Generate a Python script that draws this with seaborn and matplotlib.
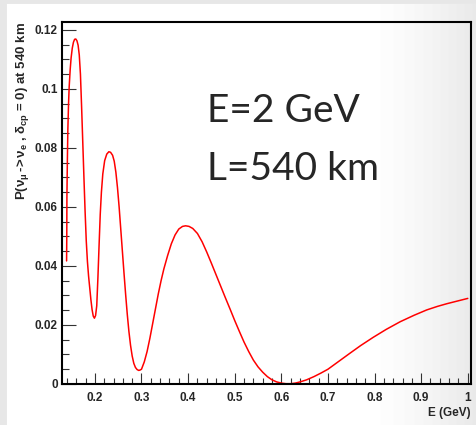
import numpy as np
import pandas as pd
import matplotlib
matplotlib.use("Agg")
import matplotlib.pyplot as plt
import seaborn as sns
from matplotlib.ticker import MultipleLocator

# values (E in GeV, oscillation probability)
energy = [0.1393, 0.1397, 0.140, 0.141, 0.142, 0.1435, 0.1449, 0.147, 0.149, 0.1515,
          0.154, 0.1565, 0.159, 0.1615, 0.164, 0.1665, 0.169, 0.1715, 0.174, 0.1765,
          0.179, 0.1815, 0.184, 0.1865, 0.189, 0.1915, 0.194, 0.1965, 0.199, 0.2015,
          0.204, 0.2065, 0.209, 0.2115, 0.214, 0.217, 0.221, 0.2255, 0.230, 0.2337,
          0.238, 0.2415, 0.245, 0.2485, 0.252, 0.2555, 0.259, 0.2625, 0.266, 0.2695,
          0.273, 0.2765, 0.280, 0.2835, 0.287, 0.2905, 0.294, 0.2966, 0.300, 0.306,
          0.312, 0.318, 0.324, 0.330, 0.336, 0.342, 0.348, 0.356, 0.364, 0.372,
          0.380, 0.388, 0.3946, 0.402, 0.410, 0.420, 0.430, 0.440, 0.450, 0.460,
          0.470, 0.480, 0.490, 0.500, 0.510, 0.520, 0.530, 0.540, 0.550, 0.560,
          0.570, 0.580, 0.590, 0.600, 0.610, 0.620, 0.630, 0.640, 0.654, 0.670,
          0.685, 0.700, 0.720, 0.747, 0.770, 0.797, 0.825, 0.855, 0.885, 0.912,
          0.935, 0.955, 0.980, 1.0]
prob = [0.0417, 0.0500, 0.0635, 0.0760, 0.0861, 0.0950, 0.1008, 0.1065, 0.1105, 0.1138,
        0.1158, 0.1168, 0.1169, 0.1163, 0.1148, 0.1115, 0.1050, 0.0940, 0.0820, 0.0700,
        0.0585, 0.0485, 0.0415, 0.0365, 0.0325, 0.0285, 0.0252, 0.0230, 0.0223, 0.0232,
        0.0265, 0.0360, 0.0470, 0.0575, 0.0650, 0.0712, 0.0757, 0.0779, 0.0787, 0.0785,
        0.0775, 0.0755, 0.0718, 0.0665, 0.0600, 0.0525, 0.0450, 0.0375, 0.0303, 0.0236,
        0.0178, 0.0131, 0.0095, 0.0070, 0.0056, 0.0049, 0.0046, 0.0047, 0.0050, 0.0075,
        0.0110, 0.0155, 0.0205, 0.0255, 0.0305, 0.0350, 0.0390, 0.0435, 0.0475, 0.0505,
        0.0525, 0.0534, 0.0536, 0.0534, 0.0527, 0.0510, 0.0482, 0.0447, 0.0409, 0.0370,
        0.0331, 0.0292, 0.0254, 0.0215, 0.0178, 0.0142, 0.0110, 0.0081, 0.0058, 0.0040,
        0.0025, 0.0014, 0.0007, 0.0003, 0.0001, 0.0001, 0.0003, 0.0007, 0.0014, 0.0025,
        0.0037, 0.0050, 0.0073, 0.0104, 0.0130, 0.0158, 0.0185, 0.0211, 0.0233, 0.0251,
        0.0263, 0.0272, 0.0282, 0.0290]

xtick_vals = [0.2, 0.3, 0.4, 0.5, 0.6, 0.7, 0.8, 0.9, 1.0]
xtick_labels = ["0.2", "0.3", "0.4", "0.5", "0.6", "0.7", "0.8", "0.9", "1"]
ytick_vals = [0, 0.02, 0.04, 0.06, 0.08, 0.1, 0.12]
ytick_labels = ["0", "0.02", "0.04", "0.06", "0.08", "0.1", "0.12"]

df = pd.DataFrame({"E": energy, "P": prob})

sns.set_style("ticks")
plt.rcParams["font.family"] = ["Liberation Sans", "DejaVu Sans"]
plt.rcParams["mathtext.fontset"] = "custom"
plt.rcParams["mathtext.rm"] = "Liberation Sans:bold"
plt.rcParams["mathtext.it"] = "Liberation Sans:bold"
plt.rcParams["mathtext.bf"] = "Liberation Sans:bold"

fig = plt.figure(figsize=(4.76, 4.25), dpi=100)
fig.patch.set_facecolor("white")

# slide background shading
bg = fig.add_axes([0, 0, 1, 1], zorder=-10)
xs = np.linspace(0, 1, 476)
shade = np.ones_like(xs)
shade = np.where(xs > 0.78, 1 - 0.085 * ((xs - 0.78) / 0.22) ** 1.3, shade)
shade = np.where(xs < 0.014, 0.91, shade)
img = np.tile(shade, (425, 1))
img[:4, :] = np.minimum(img[:4, :], 0.91)
bg.imshow(img, cmap="gray", vmin=0, vmax=1, aspect="auto", extent=[0, 1, 0, 1])
bg.set_axis_off()

ax = fig.add_axes([0.130, 0.0965, 0.8595, 0.852])
ax.set_facecolor("none")
sns.lineplot(data=df, x="E", y="P", ax=ax, color="#ff0000", linewidth=1.1,
             estimator=None, sort=False)

ax.set_xlim(0.1292, 1.0069)
ax.set_ylim(0, 0.1227)
ax.xaxis.set_minor_locator(MultipleLocator(0.02))
ax.yaxis.set_minor_locator(MultipleLocator(0.005))
ax.set_xticks(xtick_vals)
ax.set_xticklabels(xtick_labels)
ax.set_yticks(ytick_vals)
ax.set_yticklabels(ytick_labels)
ax.tick_params(axis="both", which="both", direction="in", color="#333333",
               labelsize=8.5, width=0.8)
ax.tick_params(axis="x", which="major", length=8, pad=6)
ax.tick_params(axis="x", which="minor", length=4)
ax.tick_params(axis="y", which="major", length=10, pad=3)
ax.tick_params(axis="y", which="minor", length=5)
for lab in ax.get_xticklabels() + ax.get_yticklabels():
    lab.set_fontweight("bold")
for sp in ax.spines.values():
    sp.set_linewidth(1.5)
    sp.set_color("black")

ax.set_xlabel("E (GeV)", fontsize=8.5, fontweight="bold", loc="right", labelpad=2)
ax.set_ylabel(r"P($\nu_{\mu}\,$->$\,\nu_{e}$ , $\delta_{cp}$ = 0) at 540 km",
              fontsize=9.5, fontweight="bold", loc="top", labelpad=3)

fig.text(207 / 476, 1 - 121.7 / 425, "E=2 GeV", fontsize=28, family=["Lato", "DejaVu Sans"],
         ha="left", va="baseline")
fig.text(207 / 476, 1 - 180 / 425, "L=540 km", fontsize=28, family=["Lato", "DejaVu Sans"],
         ha="left", va="baseline")

fig.savefig("out.png", dpi=100)
